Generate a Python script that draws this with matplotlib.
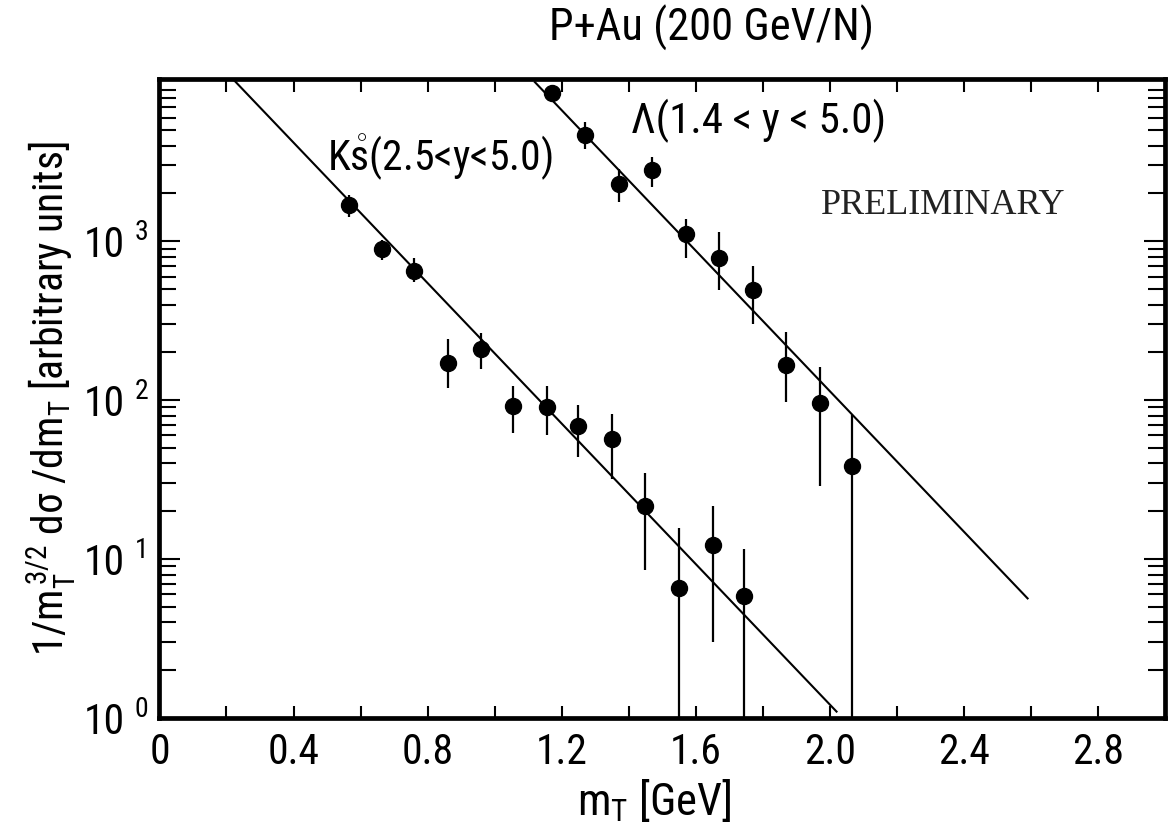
import numpy as np
import matplotlib
import matplotlib.pyplot as plt

matplotlib.use("Agg")

# narrow sans face, DejaVu Sans Condensed if Roboto Condensed is missing
plt.rcParams["font.family"] = ["Roboto Condensed", "DejaVu Sans"]
plt.rcParams["font.stretch"] = "condensed"
plt.rcParams["mathtext.fontset"] = "custom"
plt.rcParams["mathtext.rm"] = "Roboto Condensed"
plt.rcParams["mathtext.it"] = "Roboto Condensed:italic"
plt.rcParams["mathtext.bf"] = "Roboto Condensed:bold"

# K0s spectrum, 2.5 < y < 5.0
k_mt = [0.565, 0.665, 0.76, 0.86, 0.96, 1.055, 1.155, 1.25, 1.35, 1.45, 1.55, 1.65, 1.745]
k_val = [1680, 900, 650, 172, 209, 92, 91, 69, 57, 21.6, 6.6, 12.2, 5.85]
k_hi = [1945, 1015, 782, 244, 263, 123, 122, 93, 82, 35, 15.7, 21.6, 11.5]
k_lo = [1422, 760, 555, 120, 158, 62, 60, 44, 32, 8.5, 0.5, 3.0, 0.5]

# Lambda spectrum, 1.4 < y < 5.0
l_mt = [1.17, 1.27, 1.37, 1.47, 1.57, 1.67, 1.77, 1.87, 1.97, 2.065]
l_val = [8600, 4640, 2306, 2797, 1107, 789, 497, 166, 96, 38.5]
l_hi = [9500, 5620, 2865, 3390, 1390, 1145, 697, 269, 162, 80.5]
l_lo = [7800, 3830, 1767, 2197, 789, 492, 300, 98, 29, 0.5]

# exponential fits  A * exp(-mT / T)
fit_T = 0.1965  # GeV
k_norm, k_range = 3.2e4, (0.22, 2.02)
l_norm, l_range = 3.0e6, (1.12, 2.59)

fig = plt.figure(figsize=(11.69, 8.36), dpi=100)
ax = fig.add_axes([0.1364, 0.1411, 0.8602, 0.7644])


def draw_spectrum(mt, val, lo, hi, norm, rng):
    val = np.array(val)
    err = [val - np.array(lo), np.array(hi) - val]
    ax.errorbar(mt, val, yerr=err, fmt="o", color="black", markersize=11.5,
                elinewidth=1.6, capsize=0)
    m = np.linspace(rng[0], rng[1], 50)
    ax.plot(m, norm * np.exp(-m / fit_T), color="black", linewidth=1.5)


draw_spectrum(k_mt, k_val, k_lo, k_hi, k_norm, k_range)
draw_spectrum(l_mt, l_val, l_lo, l_hi, l_norm, l_range)

ax.set_yscale("log")
ax.set_xlim(0, 3.0)
ax.set_ylim(1, 1.05e4)

for sp in ax.spines.values():
    sp.set_linewidth(3.4)

ax.set_xticks(np.arange(0, 2.81, 0.4))
ax.set_xticklabels(["0", "0.4", "0.8", "1.2", "1.6", "2.0", "2.4", "2.8"])
ax.set_xticks(np.arange(0.2, 3.0, 0.4), minor=True)
ax.set_yticks([1, 10, 100, 1000])
ax.set_yticklabels(["10", "10", "10", "10"])
ax.yaxis.set_minor_locator(matplotlib.ticker.LogLocator(base=10, subs=np.arange(2, 10)))
ax.yaxis.set_minor_formatter(matplotlib.ticker.NullFormatter())

ax.tick_params(axis="both", which="both", direction="in", top=True, right=True,
               width=1.5, labelsize=30)
ax.tick_params(axis="x", which="both", length=9, pad=10)
ax.tick_params(axis="y", which="major", length=15, pad=25)
ax.tick_params(axis="y", which="minor", length=12)

# exponents of the decade labels
for val, exp in zip([1, 10, 100, 1000], ["0", "1", "2", "3"]):
    ax.annotate(exp, xy=(0, val), xycoords=("axes fraction", "data"),
                xytext=(-8, 6.5), textcoords="offset points",
                ha="right", va="center", fontsize=20)

ax.text(0.50, 3375, r"K$\mathring{\mathrm{s}}$(2.5<y<5.0)", fontsize=30,
        ha="left", va="center")
ax.text(1.407, 5750, "Λ(1.4 < y < 5.0)", fontsize=31, ha="left", va="center")
ax.text(2.337, 1672, "PRELIMINARY", fontsize=26, family="Liberation Serif",
        stretch="normal", color="#222222", ha="center", va="center")

fig.text(0.609, 0.966, "P+Au (200 GeV/N)", fontsize=32, ha="center", va="center")
fig.text(0.560, 0.043, r"m$_\mathrm{T}$ [GeV]", fontsize=32, ha="center", va="center")
fig.text(0.044, 0.523,
         r"1/m$_\mathrm{T}^{\,3/2}$ dσ /dm$_\mathrm{T}$ [arbitrary units]",
         fontsize=30, rotation=90, ha="center", va="center")

fig.savefig("out.png", dpi=100)
